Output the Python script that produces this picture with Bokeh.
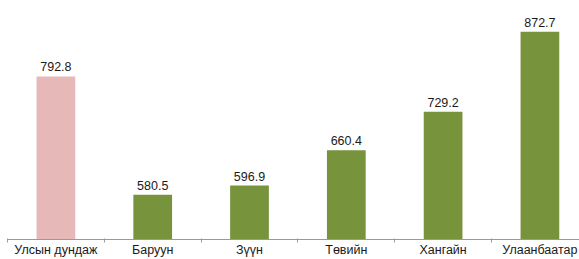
from bokeh.plotting import figure
from bokeh.models import ColumnDataSource, Range1d, FixedTicker
from bokeh.core.properties import value
from bokeh.embed import file_html
from bokeh.resources import INLINE

categories = ["Улсын дундаж", "Баруун", "Зүүн", "Төвийн", "Хангайн", "Улаанбаатар"]
values = [792.8, 580.5, 596.9, 660.4, 729.2, 872.7]
colors = ["#E6B9B8", "#77933C", "#77933C", "#77933C", "#77933C", "#77933C"]
value_labels = [f"{v:.1f}" for v in values]
baseline = 500

xs = [i + 0.5 for i in range(len(categories))]
src = ColumnDataSource(dict(x=xs, top=values, color=colors, label=value_labels))

p = figure(width=579, height=259, output_backend="svg", toolbar_location=None,
           x_range=Range1d(0, 5.909), y_range=Range1d(baseline, 929),
           y_axis_location=None, min_border=0, min_border_left=7,
           outline_line_color=None,
           background_fill_color="white", border_fill_color="white")
p.xgrid.visible = False
p.ygrid.visible = False

p.vbar(x="x", top="top", bottom=baseline, width=0.4, fill_color="color",
       line_color=None, source=src)
p.text(x="x", y="top", text="label", source=src, text_align="center",
       text_baseline="bottom", y_offset=-5, text_font=value("Liberation Sans"),
       text_font_size="12.5px", text_color="#1a1a1a")

ax = p.xaxis[0]
ax.ticker = FixedTicker(ticks=xs, minor_ticks=list(range(len(categories) + 1)))
ax.major_label_overrides = {x: c for x, c in zip(xs, categories)}
ax.major_tick_line_color = None
ax.major_tick_out = 0
ax.major_tick_in = 0
ax.minor_tick_line_color = "#9A9A9A"
ax.minor_tick_out = 3
ax.minor_tick_in = 1
ax.axis_line_color = "#9A9A9A"
ax.major_label_text_font = "Liberation Sans"
ax.major_label_text_font_size = "12.5px"
ax.major_label_text_color = "#1a1a1a"
ax.major_label_standoff = 0

open("out.html", "w").write(file_html(p, INLINE))
